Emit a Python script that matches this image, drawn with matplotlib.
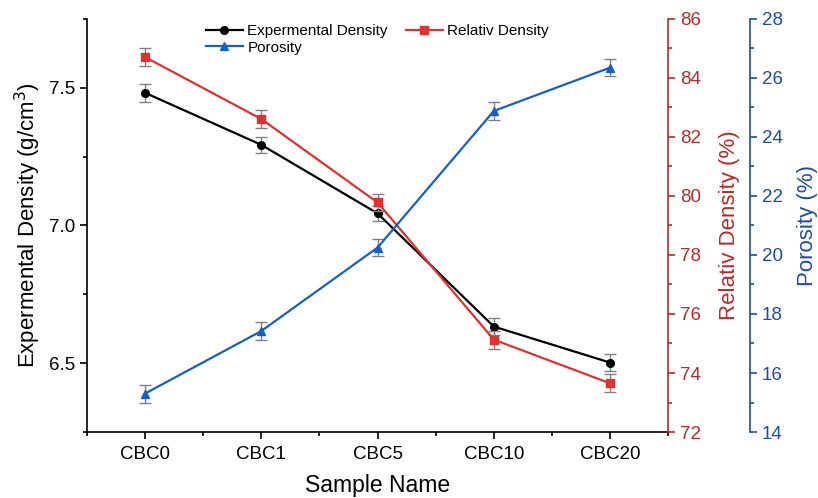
import matplotlib
matplotlib.use("Agg")
from matplotlib import pyplot as plt
from matplotlib.lines import Line2D
from matplotlib.ticker import MultipleLocator

plt.rcParams['font.family'] = ['Liberation Sans', 'DejaVu Sans']

# 样品名称与测量值
samples = ["CBC0", "CBC1", "CBC5", "CBC10", "CBC20"]
exp_density = [7.482, 7.293, 7.044, 6.633, 6.502]
exp_err = [0.032, 0.030, 0.028, 0.030, 0.030]
rel_density = [84.71, 82.61, 79.78, 75.13, 73.65]
rel_err = [0.30, 0.30, 0.30, 0.30, 0.30]
porosity = [15.30, 17.42, 20.25, 24.88, 26.35]
por_err = [0.30, 0.30, 0.30, 0.30, 0.30]

x = list(range(len(samples)))

fig = plt.figure(figsize=(8.18, 4.98), dpi=100)
ax = fig.add_axes([0.106, 0.1325, 0.711, 0.8295])
ax2 = ax.twinx()
ax3 = ax.twinx()
ax3.spines['right'].set_position(('axes', 1.141))

red_line = "#e03131"
red_axis = "#b82a2a"
blue_line = "#1660c0"
blue_axis = "#1f4ea0"
err_col = "#808080"

ax.errorbar(x, exp_density, yerr=exp_err, color="black", marker="o", ms=5.5,
            lw=1.6, ecolor=err_col, elinewidth=1, capsize=4)
ax2.errorbar(x, rel_density, yerr=rel_err, color=red_line, marker="s", ms=5.5,
             lw=1.6, ecolor=err_col, elinewidth=1, capsize=4)
ax3.errorbar(x, porosity, yerr=por_err, color=blue_line, marker="^", ms=5.5,
             lw=1.6, ecolor=err_col, elinewidth=1, capsize=4)

ax.set_xlim(-0.5, 4.5)
ax.set_ylim(6.25, 7.75)
ax2.set_ylim(72, 86)
ax3.set_ylim(14, 28)

ax.set_xticks(x)
ax.set_xticklabels(samples)
ax.xaxis.set_minor_locator(MultipleLocator(0.5))
ax.yaxis.set_major_locator(MultipleLocator(0.5))
ax.yaxis.set_minor_locator(MultipleLocator(0.25))
ax2.yaxis.set_major_locator(MultipleLocator(2))
ax2.yaxis.set_minor_locator(MultipleLocator(1))
ax3.yaxis.set_major_locator(MultipleLocator(2))
ax3.yaxis.set_minor_locator(MultipleLocator(1))

ax.tick_params(axis='both', which='major', labelsize=13.5, length=5, width=1.2)
ax.tick_params(axis='both', which='minor', length=3, width=1.2)
ax.tick_params(axis='x', which='major', pad=5)
ax2.tick_params(axis='y', which='both', colors=red_axis, labelsize=13.5, width=1.2)
ax2.tick_params(axis='y', which='major', length=5)
ax2.tick_params(axis='y', which='minor', length=3)
ax3.tick_params(axis='y', which='both', colors=blue_axis, labelsize=13.5, width=1.2)
ax3.tick_params(axis='y', which='major', length=5)
ax3.tick_params(axis='y', which='minor', length=3)

for s in ['top', 'right']:
    ax.spines[s].set_visible(False)
for s in ['top', 'left', 'bottom']:
    ax2.spines[s].set_visible(False)
    ax3.spines[s].set_visible(False)
ax.spines['left'].set_linewidth(1.2)
ax.spines['bottom'].set_linewidth(1.2)
ax2.spines['right'].set_color(red_axis)
ax2.spines['right'].set_linewidth(1.2)
ax3.spines['right'].set_color(blue_axis)
ax3.spines['right'].set_linewidth(1.2)

ax.set_xlabel("Sample Name", fontsize=16.5, labelpad=8)
ax.set_ylabel("Expermental Density (g/cm$^3$)", fontsize=16)
ax2.set_ylabel("Relativ Density (%)", fontsize=16, color=red_axis, labelpad=13)
ax3.set_ylabel("Porosity (%)", fontsize=16, color=blue_axis, labelpad=10)

# 图例用普通线条，不带误差线
h1 = Line2D([], [], color="black", marker="o", ms=5.5, lw=1.6)
h2 = Line2D([], [], color=red_line, marker="s", ms=5.5, lw=1.6)
h3 = Line2D([], [], color=blue_line, marker="^", ms=5.5, lw=1.6)
ax.legend([h1, h3, h2], ["Expermental Density", "Porosity", "Relativ Density"],
          ncol=2, loc="upper center", bbox_to_anchor=(0.5, 1.02), frameon=False,
          fontsize=11, handlelength=2.4, columnspacing=1.2, labelspacing=0.15,
          handletextpad=0.3)

fig.savefig("out.png", dpi=100)
